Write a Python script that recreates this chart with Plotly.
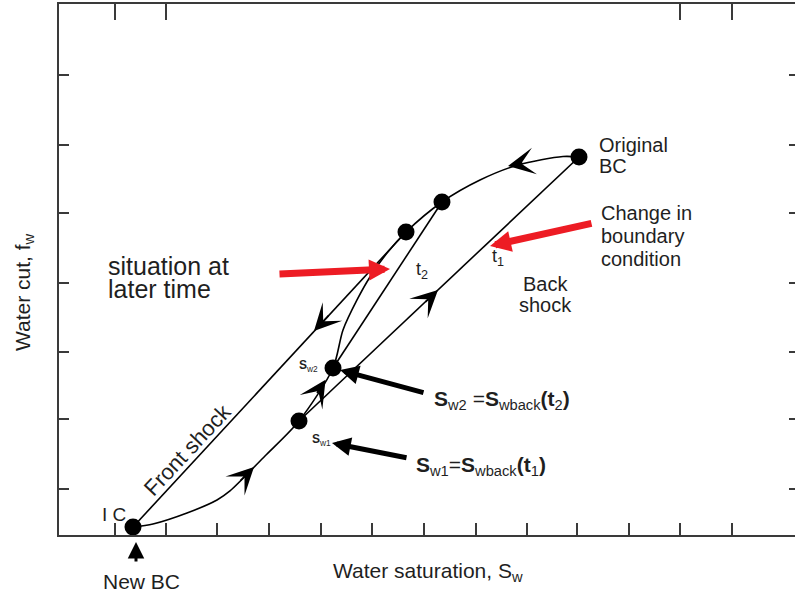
import plotly.graph_objects as go

FONT = "Liberation Sans, Arial, Helvetica, sans-serif"
INK = "#1f1f1f"
AXC = "#3a3a3a"
RED = "#ed1c24"
X_MAX = 1.43

# ---- axis ticks (no labels in the original) ----
x_ticks = [0.109, 0.208, 0.307, 0.408, 0.509, 0.608, 0.709, 0.810, 0.909, 1.006, 1.107, 1.207, 1.308]
x_ticks_top = [0.109, 0.208, 1.207, 1.308]
y_ticks = [0.087, 0.218, 0.345, 0.475, 0.606, 0.735, 0.866]

# ---- fractional flow curve fw(Sw) (schematic) ----
curve_sw = [0.1438, 0.1826, 0.2487, 0.3070, 0.3322, 0.4002, 0.4663, 0.5324, 0.5518,
            0.5790, 0.6042, 0.6373, 0.6742, 0.7441, 0.8180, 0.8918, 0.9792, 1.0103]
curve_fw = [0.0151, 0.0207, 0.0414, 0.0659, 0.0829, 0.1488, 0.2147, 0.3145, 0.3861,
            0.4426, 0.4859, 0.5311, 0.5706, 0.6271, 0.6685, 0.6968, 0.7128, 0.7119]

# ---- state points ----
pt_names = ["IC", "Sw1", "Sw2", "tangent", "t2 end", "Original BC"]
pt_sw = [0.1438, 0.4663, 0.5324, 0.6742, 0.7441, 1.0103]
pt_fw = [0.0151, 0.2147, 0.3145, 0.5706, 0.6271, 0.7119]

# ---- shocks (start point, end point) ----
shock_names = ["Front shock", "Back shock t2", "Back shock t1"]
shock_from = ["IC", "Sw2", "Sw1"]
shock_to = ["tangent", "t2 end", "Original BC"]

# ---- small direction arrowheads on the paths: tip (sw, fw), tail (sw, fw) ----
dir_tip_sw = [0.3789, 0.5179, 0.4954, 0.7364, 0.8724]
dir_tip_fw = [0.1281, 0.2925, 0.3842, 0.4614, 0.6949]
dir_tail_sw = [0.3497, 0.4994, 0.5265, 0.7092, 0.9035]
dir_tail_fw = [0.0998, 0.2646, 0.4160, 0.4365, 0.7006]

# ---- pointer arrows: tip, tail, colour, width ----
ptr_tip_sw = [0.6431, 0.8374, 0.5460, 0.5304]
ptr_tip_fw = [0.5009, 0.5443, 0.3107, 0.1733]
ptr_tail_sw = [0.4255, 1.0375, 0.7111, 0.6781]
ptr_tail_fw = [0.4915, 0.5876, 0.2674, 0.1450]
ptr_color = [RED, RED, "black", "black"]
ptr_width = [7, 7, 5, 5]
ptr_size = [0.6, 0.6, 0.75, 0.75]

# "New BC" marker arrow below the axis (sw, fw of tip; length in px)
newbc_sw, newbc_fw, newbc_len = 0.1496, -0.0132, 21

idx = {n: i for i, n in enumerate(pt_names)}

fig = go.Figure()

fig.add_trace(go.Scatter(x=curve_sw, y=curve_fw, mode="lines",
                         line=dict(color="black", width=1.6, shape="spline", smoothing=0.8),
                         hoverinfo="skip", showlegend=False))

for name, a, b in zip(shock_names, shock_from, shock_to):
    i, j = idx[a], idx[b]
    fig.add_trace(go.Scatter(x=[pt_sw[i], pt_sw[j]], y=[pt_fw[i], pt_fw[j]], mode="lines",
                             line=dict(color="black", width=1.6), name=name,
                             hoverinfo="skip", showlegend=False))

fig.add_trace(go.Scatter(x=pt_sw, y=pt_fw, mode="markers",
                         marker=dict(color="black", size=17), text=pt_names,
                         hoverinfo="text", showlegend=False))

# dummy traces so the mirrored tick-only axes render
fig.add_trace(go.Scatter(x=[], y=[], xaxis="x2", yaxis="y", showlegend=False, hoverinfo="skip"))
fig.add_trace(go.Scatter(x=[], y=[], xaxis="x", yaxis="y2", showlegend=False, hoverinfo="skip"))

ann = []
for tx, ty, ax, ay in zip(dir_tip_sw, dir_tip_fw, dir_tail_sw, dir_tail_fw):
    ann.append(dict(x=tx, y=ty, ax=ax, ay=ay, xref="x", yref="y", axref="x", ayref="y",
                    text="", showarrow=True, arrowhead=3, arrowsize=2.8, arrowwidth=1.6,
                    arrowcolor="black"))
for tx, ty, ax, ay, c, w, s in zip(ptr_tip_sw, ptr_tip_fw, ptr_tail_sw, ptr_tail_fw,
                                   ptr_color, ptr_width, ptr_size):
    ann.append(dict(x=tx, y=ty, ax=ax, ay=ay, xref="x", yref="y", axref="x", ayref="y",
                    text="", showarrow=True, arrowhead=2, arrowsize=s, arrowwidth=w,
                    arrowcolor=c))
ann.append(dict(x=newbc_sw / X_MAX, y=newbc_fw, xref="paper", yref="paper",
                axref="pixel", ayref="pixel", ax=0, ay=newbc_len, text="", showarrow=True,
                arrowhead=2, arrowsize=1.1, arrowwidth=3, arrowcolor="black"))


def label(text, x, y, size=20, xanchor="left", angle=0):
    # x, y in data units (Sw, fw); placed with paper refs so they show outside the axes too
    ann.append(dict(x=x / X_MAX, y=y, xref="paper", yref="paper", text=text, showarrow=False,
                    xanchor=xanchor, yanchor="middle", textangle=angle,
                    font=dict(family=FONT, size=size, color=INK)))


label("Original", 1.0453, 0.7345)
label("BC", 1.0453, 0.6949)
label("Change in", 1.0492, 0.6064)
label("boundary", 1.0492, 0.5631)
label("condition", 1.0492, 0.5198)
label("Back", 0.9443, 0.4727, xanchor="center")
label("shock", 0.9443, 0.4331, xanchor="center")
label("t<sub>1</sub>", 0.8373, 0.5217, size=18)
label("t<sub>2</sub>", 0.6897, 0.4972, size=18)
label("situation at", 0.0913, 0.5066, size=25)
label("later time", 0.0913, 0.4633, size=25)
label("Front shock", 0.2506, 0.1601, size=22, xanchor="center", angle=-47)
label("I C", 0.1069, 0.0395, size=19, xanchor="center")
label("New BC", 0.1612, -0.0885, size=21, xanchor="center")
label("<b>S</b><sub>w2</sub>", 0.4624, 0.3183, size=12)
label("<b>S</b><sub>w1</sub>", 0.4876, 0.1789, size=12)
label("<b>S</b><sub>w2</sub> =<b>S</b><sub>wback</sub><b>(t</b><sub>2</sub><b>)</b>", 0.7246, 0.2542, size=21)
label("<b>S</b><sub>w1</sub>=<b>S</b><sub>wback</sub><b>(t</b><sub>1</sub><b>)</b>", 0.6897, 0.1299, size=21)
label("Water saturation, S<sub>w</sub>", 0.7169, -0.0697, size=21, xanchor="center")
label("Water cut, f<sub>w</sub>", -0.068, 0.4576, size=21, xanchor="center", angle=-90)

fig.update_layout(
    width=795, height=594,
    margin=dict(l=59, r=0, t=4, b=59),
    paper_bgcolor="white", plot_bgcolor="white",
    showlegend=False,
    annotations=ann,
    xaxis=dict(range=[0, X_MAX], showgrid=False, zeroline=False, showline=True,
               linecolor=AXC, linewidth=2, mirror=True, ticks="inside", ticklen=12,
               tickwidth=1.5, tickcolor=AXC, tickvals=x_ticks, showticklabels=False,
               fixedrange=True),
    xaxis2=dict(range=[0, X_MAX], overlaying="x", side="top", anchor="y", showgrid=False,
                zeroline=False, showline=False, ticks="inside", ticklen=16, tickwidth=1.5,
                tickcolor=AXC, tickvals=x_ticks_top, showticklabels=False),
    yaxis=dict(range=[0, 1], showgrid=False, zeroline=False, showline=True,
               linecolor=AXC, linewidth=2, ticks="inside", ticklen=10, tickwidth=1.5,
               tickcolor=AXC, tickvals=y_ticks, showticklabels=False, fixedrange=True),
    yaxis2=dict(range=[0, 1], overlaying="y", side="right", anchor="x", showgrid=False,
                zeroline=False, showline=False, ticks="inside", ticklen=6, tickwidth=1.5,
                tickcolor=AXC, tickvals=y_ticks, showticklabels=False),
)

fig.write_html("out.html", config={"displayModeBar": False},
               post_script="document.body.style.margin='0px';")
